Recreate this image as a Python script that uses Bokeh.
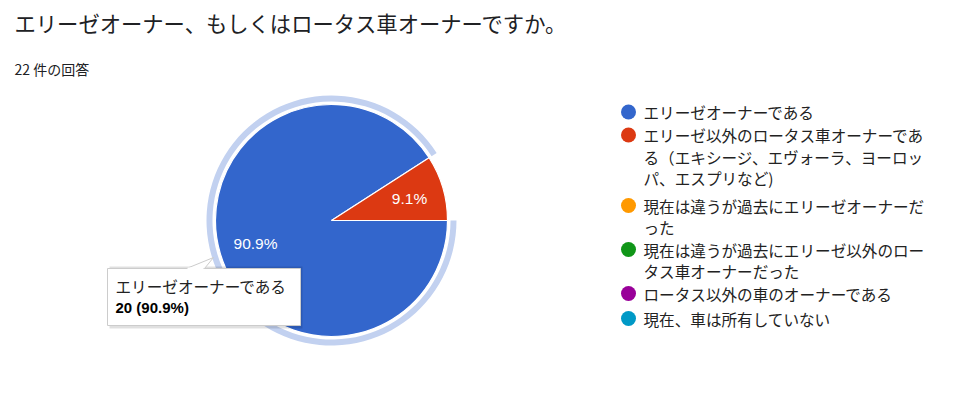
import math
from bokeh.plotting import figure
from bokeh.models import Range1d
from bokeh.core.properties import value
from bokeh.embed import file_html
from bokeh.resources import INLINE

# ---- data ----
title_text = "エリーゼオーナー、もしくはロータス車オーナーですか。"
subtitle_text = "22 件の回答"
categories = [
    "エリーゼオーナーである",
    "エリーゼ以外のロータス車オーナーである（エキシージ、エヴォーラ、ヨーロッパ、エスプリなど)",
    "現在は違うが過去にエリーゼオーナーだった",
    "現在は違うが過去にエリーゼ以外のロータス車オーナーだった",
    "ロータス以外の車のオーナーである",
    "現在、車は所有していない",
]
legend_lines = [
    ["エリーゼオーナーである"],
    ["エリーゼ以外のロータス車オーナーであ", "る（エキシージ、エヴォーラ、ヨーロッ", "パ、エスプリなど)"],
    ["現在は違うが過去にエリーゼオーナーだ", "った"],
    ["現在は違うが過去にエリーゼ以外のロー", "タス車オーナーだった"],
    ["ロータス以外の車のオーナーである"],
    ["現在、車は所有していない"],
]
counts = [20, 2, 0, 0, 0, 0]
colors = ["#3366cc", "#dc3912", "#ff9900", "#109618", "#990099", "#0099c6"]
highlight_index = 0

W, H = 960, 396
FONT = "Noto Sans CJK JP"
LATIN = "Liberation Sans"

def Y(py):
    return H - py

p = figure(width=W, height=H, x_range=Range1d(0, W), y_range=Range1d(0, H),
           output_backend="svg", toolbar_location=None,
           x_axis_type=None, y_axis_type=None, min_border=0)
p.grid.visible = False
p.outline_line_color = None
p.background_fill_color = "white"
p.border_fill_color = "white"

# titles
p.text(x=[14], y=[Y(22)], text=[title_text], text_font=value(FONT),
       text_font_size="21.3px", text_color="#202124", text_baseline="middle")
p.text(x=[14], y=[Y(68)], text=[subtitle_text], text_font=value(FONT),
       text_font_size="14px", text_color="#202124", text_baseline="middle")

# pie
cx, cy = 331, Y(220)
r = 116
total = sum(counts)
red_ang = 2 * math.pi * counts[1] / total
blue_start, blue_end = red_ang, 2 * math.pi

# highlight ring on hovered slice
p.annular_wedge(x=cx, y=cy, inner_radius=119, outer_radius=125,
                start_angle=blue_start, end_angle=blue_end,
                fill_color="#c2d1f0", line_color=None)

p.wedge(x=[cx, cx], y=[cy, cy], radius=r,
        start_angle=[blue_start, 0], end_angle=[blue_end, red_ang],
        fill_color=[colors[0], colors[1]], line_color="white", line_width=1.2)

# slice labels
pcts = ["%.1f%%" % (100 * counts[0] / total), "%.1f%%" % (100 * counts[1] / total)]
lx = [255, 409]
ly = [Y(243), Y(198)]
p.text(x=lx, y=ly, text=pcts, text_font=value(LATIN), text_font_size="15.5px",
       text_color="white", text_align="center", text_baseline="middle")

# legend
lx0, tx0 = 628, 643
item_tops = [111.5, 134.5, 205, 249, 293, 318]
line_h = 21.5
for i, lines in enumerate(legend_lines):
    ytop = item_tops[i]
    p.scatter(x=[lx0], y=[Y(ytop)], size=15, marker="circle",
              fill_color=colors[i], line_color=None)
    p.text(x=[tx0] * len(lines), y=[Y(ytop + k * line_h) for k in range(len(lines))],
           text=lines, text_font=value(FONT), text_font_size="15.6px",
           text_color="#222222", text_baseline="middle")

# tooltip
bx0, bx1, by0, by1 = 107, 300, 268, 325
p.quad(left=bx0 + 2, right=bx1 + 2, top=Y(by0 - 2), bottom=Y(by1 + 3),
       fill_color="#000000", fill_alpha=0.12, line_color=None)
p.quad(left=bx0, right=bx1, top=Y(by0), bottom=Y(by1),
       fill_color="white", line_color="#cccccc", line_width=1)
p.patch(x=[186, 213, 204], y=[Y(by0), Y(257), Y(by0)],
        fill_color="white", line_color="#cccccc", line_width=1)
p.segment(x0=[187], y0=[Y(by0)], x1=[203], y1=[Y(by0)], line_color="white", line_width=2)
p.text(x=[115], y=[Y(285)], text=[categories[highlight_index]], text_font=value(FONT),
       text_font_size="15.6px", text_color="#222222", text_baseline="middle")
p.text(x=[115], y=[Y(307)],
       text=["%d (%.1f%%)" % (counts[highlight_index], 100 * counts[highlight_index] / total)],
       text_font=value(LATIN), text_font_size="15px", text_font_style="bold",
       text_color="#000000", text_baseline="middle")

open("out.html", "w").write(file_html(p, INLINE))
